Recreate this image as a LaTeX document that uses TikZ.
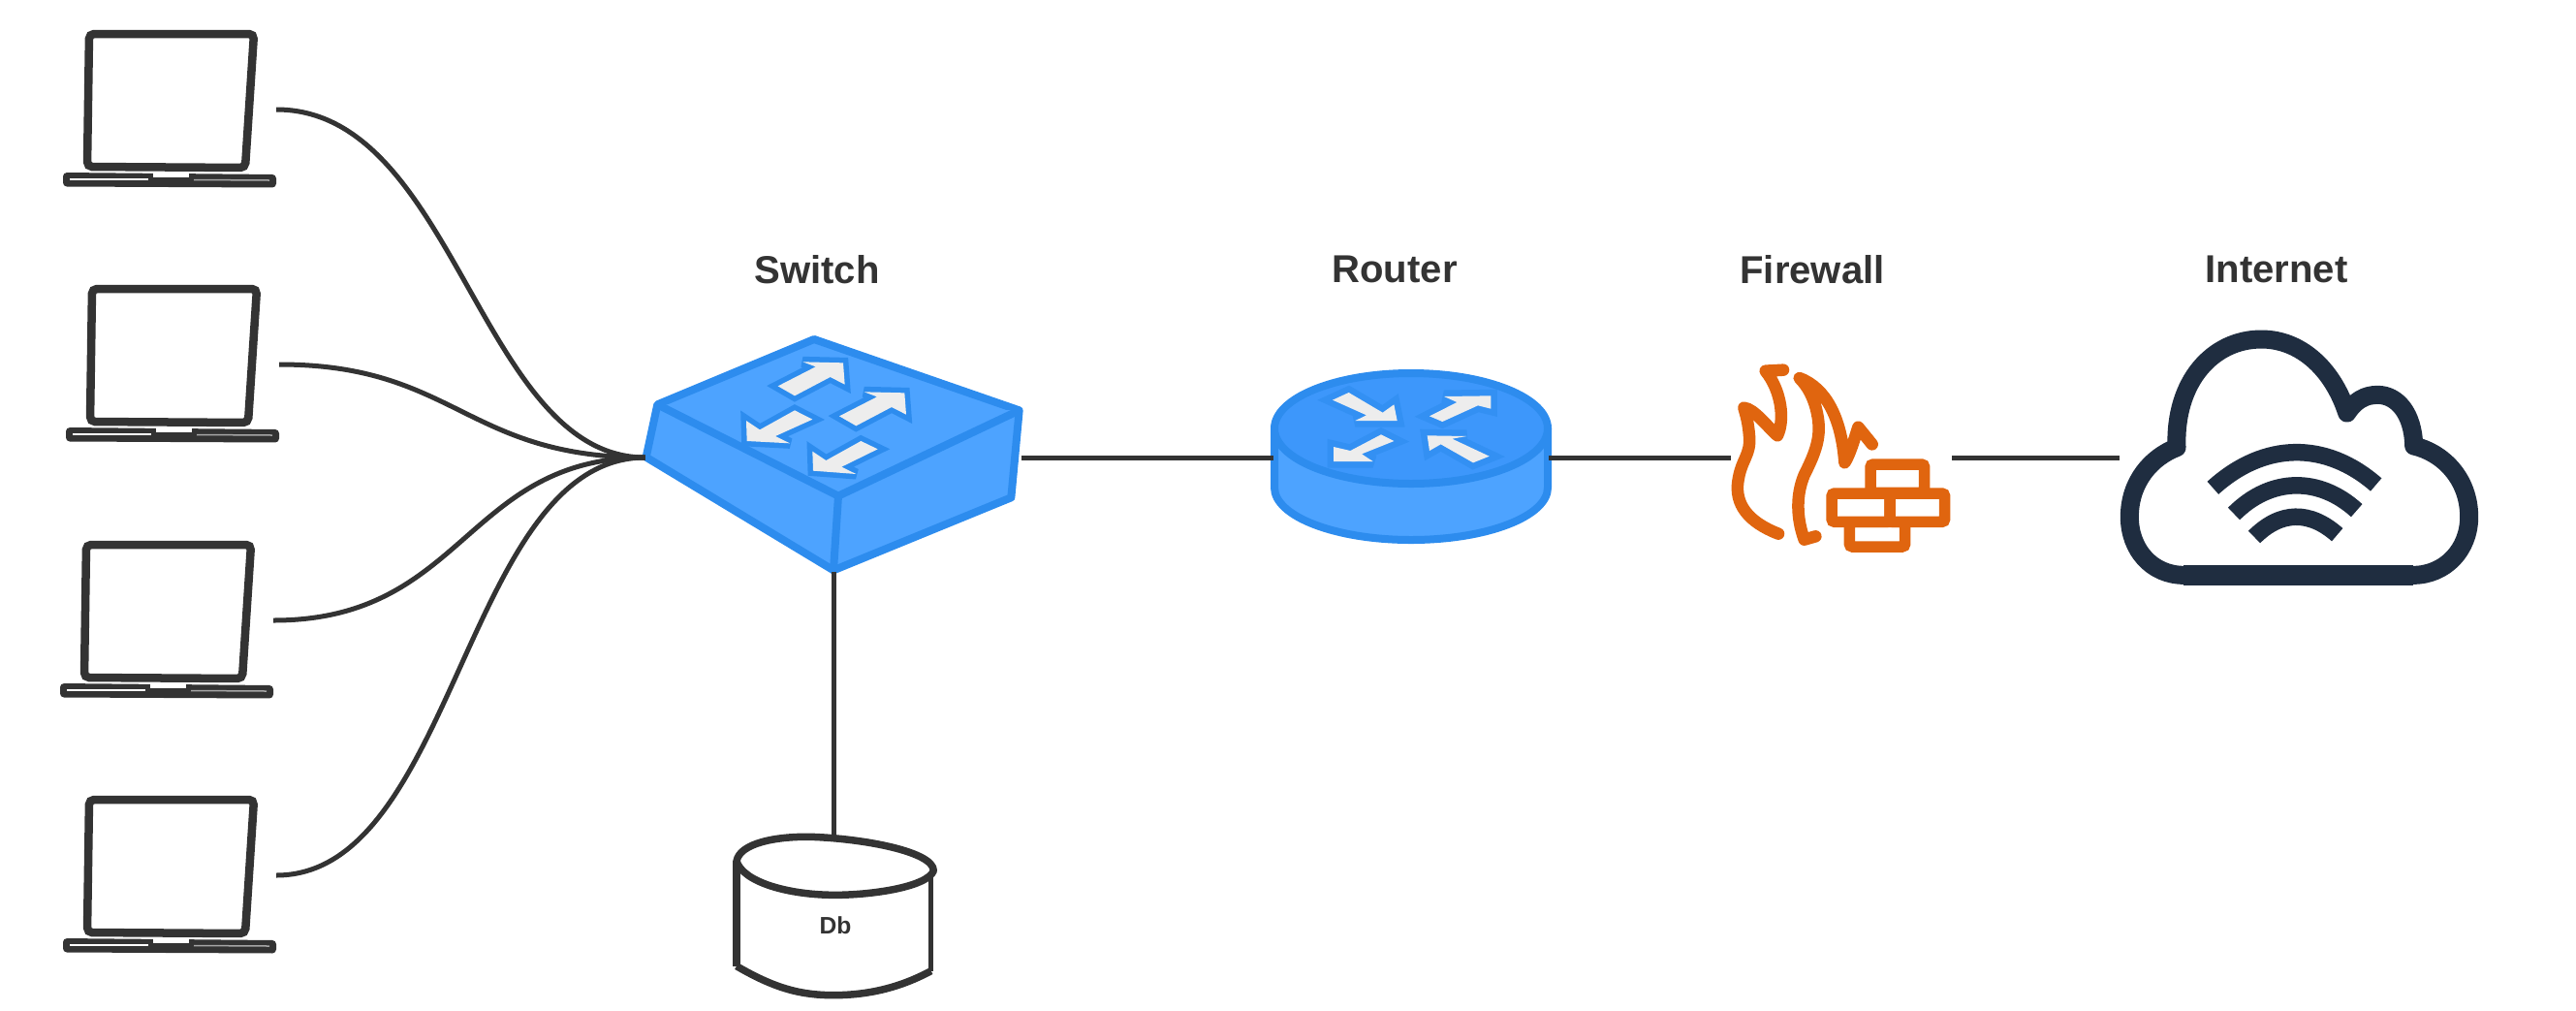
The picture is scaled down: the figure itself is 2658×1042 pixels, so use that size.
\documentclass[tikz,border=0pt]{standalone}
\usepackage{fontspec}
\setmainfont{Liberation Sans}
\definecolor{ink}{HTML}{333333}
\definecolor{swfill}{HTML}{4DA3FF}
\definecolor{swline}{HTML}{2D8CEE}
\definecolor{rtop}{HTML}{3D97FB}
\definecolor{arrowfill}{HTML}{EDEDED}
\definecolor{fire}{HTML}{E0650F}
\definecolor{cloudink}{HTML}{1F2D40}
\tikzset{
  anchorbox/.style={inner sep=0pt,outer sep=0pt,minimum width=#1},
  link/.style={draw=ink,line width=0.05cm},
  cable/.style={draw=ink,line width=0.05cm},
  heading/.style={font=\fontsize{11.4}{13}\selectfont\bfseries,text=ink,inner sep=0pt},
  lapline/.style={draw=ink,line width=0.085cm,rounded corners=0.05cm,fill=white},
  body/.style={draw=swline,fill=swfill,line width=0.08cm,line join=round},
  garrow/.style={draw=swline,line width=0.11cm,line join=miter,miter limit=3,postaction={fill=arrowfill,draw=none}},
  rarrow/.style={draw=swline!60!rtop,line width=0.13cm,line join=miter,miter limit=3,postaction={fill=arrowfill,draw=none}},
  brick/.style={draw=fire,line width=0.115cm,rounded corners=0.03cm,fill=white},
  flame/.style={draw=fire,line width=0.125cm,line cap=round,line join=round},
  wifi/.style={draw=cloudink,line width=0.175cm},
  dbline/.style={draw=ink,line width=0.075cm,line join=round}
}
\begin{document}
\begin{tikzpicture}[x=0.01cm,y=-0.01cm]
\useasboundingbox (0,0) rectangle (2658,1042);
\fill[white] (0,0) rectangle (2658,1042);

% laptops
\foreach \i/\dx/\dy in {1/0/0,2/3/263,3/-3/527,4/0/790}{
  \begin{scope}[shift={(\dx,\dy)}]
    \node[anchorbox=2.22cm,minimum height=1.57cm] (lap\i) at (174,113) {};
    \draw[lapline] (92,35) -- (262,35) -- (253,173) -- (90,172) -- cycle;
    \fill[ink,rounded corners=0.04cm] (65,178) -- (285,180) -- (285,193.5) -- (65,192.5) -- cycle;
    \fill[white] (158,177) rectangle (195,182.5);
    \draw[white,line width=0.015cm] (72,185) -- (153,185);
    \draw[gray!70,line width=0.015cm] (200,185.5) -- (278,186);
  \end{scope}
}

% switch
\node[anchorbox=3.88cm,minimum height=2.36cm] (sw) at (860,472) {};
\begin{scope}[shift={(640,340)},scale=0.33333]
  \path[body] (115,232) -- (600,30) -- (1235,250) -- (1210,520) -- (660,745) -- (80,395) -- cycle;
  \path[body] (115,232) -- (675,515) -- (1235,250);
  \path[body,fill=none] (675,515) -- (660,745);
  \path[garrow] (488,175) -- (605,115) -- (565,100) -- (690,103) -- (695,170) -- (650,147) -- (540,205) -- cycle;
  \path[garrow] (678,268) -- (795,208) -- (755,193) -- (880,196) -- (885,263) -- (840,240) -- (730,298) -- cycle;
  \path[garrow] (595,278) -- (540,250) -- (432,310) -- (390,282) -- (392,345) -- (525,352) -- (480,330) -- cycle;
  \path[garrow] (797,370) -- (745,345) -- (637,405) -- (595,377) -- (597,437) -- (730,447) -- (685,425) -- cycle;
\end{scope}

% router
\node[anchorbox=2.84cm,minimum height=1.72cm] (rt) at (1456,472) {};
\path[body] (1315,442) -- (1315,503) arc[x radius=141,y radius=-54,start angle=180,end angle=360] -- (1597,442) -- cycle;
\path[body,fill=rtop] (1456,442) ellipse[x radius=141,y radius=57];
\begin{scope}[shift={(1290,360)},scale=0.33333]
  \path[rarrow] (255,158) -- (305,135) -- (410,197) -- (445,172) -- (455,222) -- (325,222) -- (360,205) -- cycle;
  \path[rarrow] (555,208) -- (640,165) -- (600,147) -- (745,145) -- (745,185) -- (705,175) -- (595,225) -- cycle;
  \path[rarrow] (445,285) -- (405,265) -- (310,315) -- (258,303) -- (258,348) -- (380,348) -- (345,325) -- cycle;
  \path[rarrow] (548,268) -- (670,270) -- (625,278) -- (740,332) -- (690,352) -- (590,295) -- (555,315) -- cycle;
\end{scope}

% firewall
\node[anchorbox=2.28cm,minimum height=1.9cm] (fw) at (1900,472) {};
\begin{scope}[shift={(1760,360)},scale=0.33333]
  \path[flame] (225,572) .. controls (130,535) and (90,480) .. (100,410)
    .. controls (110,340) and (140,330) .. (135,270) .. controls (132,230) and (125,205) .. (118,182)
    .. controls (150,185) and (190,240) .. (222,268) .. controls (245,220) and (235,130) .. (185,68) -- (240,65);
  \path[flame] (340,580) -- (305,590) .. controls (280,520) and (280,450) .. (305,390)
    .. controls (340,320) and (360,270) .. (345,200) .. controls (335,150) and (315,115) .. (290,90)
    .. controls (370,120) and (420,210) .. (430,352) .. controls (445,330) and (460,280) .. (472,242) -- (515,295);
  \path[brick] (510,357) rectangle (677,445);
  \path[brick] (445,535) rectangle (617,612);
  \path[brick] (390,447) rectangle (570,535);
  \path[brick] (570,447) rectangle (740,535);
\end{scope}

% cloud
\node[anchorbox=3.46cm,minimum height=2.4cm] (cl) at (2360,472) {};
\begin{scope}[shift={(2170,330)},scale=0.33333]
  \draw[cloudink,line width=0.19cm,line join=round]
    (250,790) .. controls (150,790) and (82,710) .. (82,610)
    .. controls (82,500) and (150,425) .. (228,395)
    .. controls (220,190) and (340,60) .. (490,60)
    .. controls (610,60) and (710,150) .. (755,288)
    .. controls (780,250) and (810,232) .. (850,232)
    .. controls (910,232) and (960,290) .. (962,390)
    .. controls (1050,410) and (1133,490) .. (1133,610)
    .. controls (1133,710) and (1060,790) .. (960,790) -- cycle;
  \draw[cloudink,line width=0.21cm] (250,790) -- (960,790);
  \path[wifi] (340,520) .. controls (500,375) and (690,375) .. (845,510);
  \path[wifi] (405,600) .. controls (520,485) and (670,485) .. (785,590);
  \path[wifi] (468,672) .. controls (550,590) and (640,590) .. (725,665);
\end{scope}

% database
\node[anchorbox=2.08cm,minimum height=1.66cm] (db) at (860,945) {};
\begin{scope}[shift={(730,850)},scale=0.33333]
  \path[dbline] (90,115) .. controls (100,60) and (210,38) .. (320,40)
    .. controls (480,45) and (700,85) .. (700,145)
    .. controls (680,195) and (510,220) .. (395,220)
    .. controls (250,220) and (110,180) .. (90,115) -- cycle;
  \draw[ink,line width=0.08cm] (90,115) -- (90,440);
  \draw[ink,line width=0.05cm] (692,150) -- (692,455);
  \path[dbline] (90,440) .. controls (210,510) and (290,530) .. (390,530) .. controls (490,530) and (590,510) .. (692,455);
\end{scope}
\node[font=\fontsize{7}{8}\selectfont\bfseries,text=ink,inner sep=0pt] (dbtext) at (862,955) {Db};

% labels
\node[heading] (lsw) at (843,278) {Switch};
\node[heading] (lrt) at (1439,278) {Router};
\node[heading] (lfw) at (1870,278) {Firewall};
\node[heading] (lcl) at (2349,278) {Internet};

% connectors
\draw[cable] (lap1.east) .. controls (470,113) and (495,472) .. (sw.west);
\draw[cable] (lap2.east) .. controls (470,376) and (480,472) .. (sw.west);
\draw[cable] (lap3.east) .. controls (480,640) and (480,472) .. (sw.west);
\draw[cable] (lap4.east) .. controls (470,903) and (480,472) .. (sw.west);
\draw[link] (sw.east) -- (rt.west);
\draw[link] (rt.east) -- (fw.west);
\draw[link] (fw.east) -- (cl.west);
\draw[link] (sw.south) -- (db.north);
\end{tikzpicture}
\end{document}
